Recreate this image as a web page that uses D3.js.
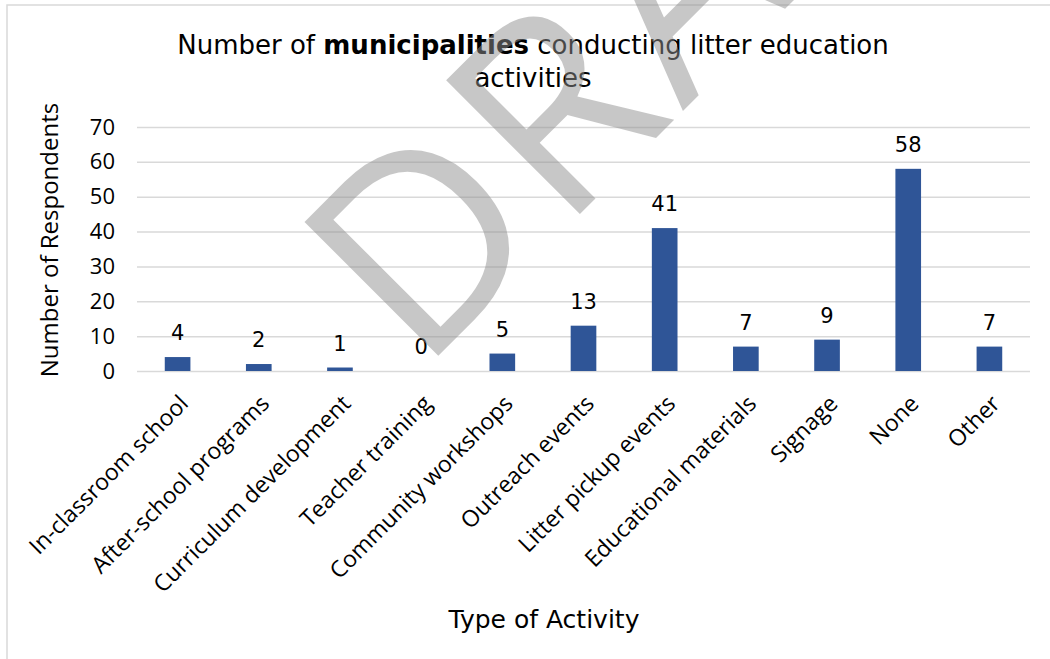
<!DOCTYPE html>
<html>
<head>
<meta charset="utf-8">
<script src="https://cdn.jsdelivr.net/npm/d3@7"></script>
<style>
  body { margin: 0; background: #fff; }
  svg { display: block; }
</style>
</head>
<body>
<div id="chart"></div>
<script>
// data
const categories = ["In-classroom school", "After-school programs", "Curriculum development",
  "Teacher training", "Community workshops", "Outreach events", "Litter pickup events",
  "Educational materials", "Signage", "None", "Other"];
const respondents = [4, 2, 1, 0, 5, 13, 41, 7, 9, 58, 7];
const yTicks = [0, 10, 20, 30, 40, 50, 60, 70];

const W = 1050, H = 659;
const plot = { left: 137, right: 1030, top: 127, bottom: 371 };
const titleFont = "'DejaVu Sans', sans-serif";
const body = "'Open Sans', sans-serif";

const svg = d3.select("#chart").append("svg").attr("width", W).attr("height", H);

// chart frame
svg.append("rect")
  .attr("x", 7).attr("y", 5).attr("width", W).attr("height", H)
  .attr("fill", "none").attr("stroke", "#d9d9d9").attr("stroke-width", 1.5);

const x = d3.scaleBand().domain(categories).range([plot.left, plot.right])
  .paddingInner(0.684).paddingOuter(0.342);
const y = d3.scaleLinear().domain([0, 70]).range([plot.bottom, plot.top]);

// y axis + gridlines
const yAxis = svg.append("g")
  .attr("transform", "translate(" + plot.left + ",0)")
  .call(d3.axisLeft(y).tickValues(yTicks).tickSize(-(plot.right - plot.left)).tickPadding(22));
yAxis.select(".domain").remove();
yAxis.selectAll("line").attr("stroke", "#d9d9d9").attr("stroke-width", 1.5);
yAxis.selectAll("text")
  .style("font-family", body).style("font-size", "22px").attr("fill", "#000");

// x axis labels (rotated)
const xAxis = svg.append("g")
  .attr("transform", "translate(0," + plot.bottom + ")")
  .call(d3.axisBottom(x).tickSize(0).tickPadding(0));
xAxis.select(".domain").remove();
xAxis.selectAll("text")
  .style("font-family", body).style("font-size", "23px").attr("fill", "#000")
  .attr("text-anchor", "end")
  .attr("dy", null).attr("y", 0)
  .attr("transform", "translate(12,34) rotate(-45)");

// bars
svg.selectAll(".bar").data(respondents).enter().append("rect")
  .attr("class", "bar")
  .attr("x", (d, i) => x(categories[i]))
  .attr("width", x.bandwidth())
  .attr("y", d => y(d))
  .attr("height", d => y(0) - y(d))
  .attr("fill", "#2f5597");

// data labels
svg.selectAll(".lbl").data(respondents).enter().append("text")
  .attr("class", "lbl")
  .attr("x", (d, i) => x(categories[i]) + x.bandwidth() / 2)
  .attr("y", d => y(d) - 17)
  .attr("text-anchor", "middle")
  .style("font-family", titleFont).style("font-size", "21px")
  .text(d => d);

// title
const title = svg.append("text")
  .attr("text-anchor", "middle")
  .style("font-family", titleFont).style("font-size", "26px");
const t1 = title.append("tspan").attr("x", 533).attr("y", 54);
t1.append("tspan").text("Number of ");
t1.append("tspan").style("font-weight", "bold").text("municipalities");
t1.append("tspan").text(" conducting litter education");
title.append("tspan").attr("x", 533).attr("y", 87).text("activities");

// axis titles
svg.append("text")
  .attr("transform", "translate(58,240) rotate(-90)")
  .attr("text-anchor", "middle")
  .style("font-family", body).style("font-size", "24px")
  .text("Number of Respondents");

svg.append("text")
  .attr("x", 544).attr("y", 628)
  .attr("text-anchor", "middle")
  .style("font-family", titleFont).style("font-size", "25px")
  .text("Type of Activity");

// watermark
svg.append("text")
  .attr("transform", "translate(420,374) rotate(-45)")
  .style("font-family", body).style("font-size", "265px")
  .style("letter-spacing", "8px")
  .attr("fill", "#909090").attr("opacity", 0.5)
  .text("DRAFT");
</script>
</body>
</html>
